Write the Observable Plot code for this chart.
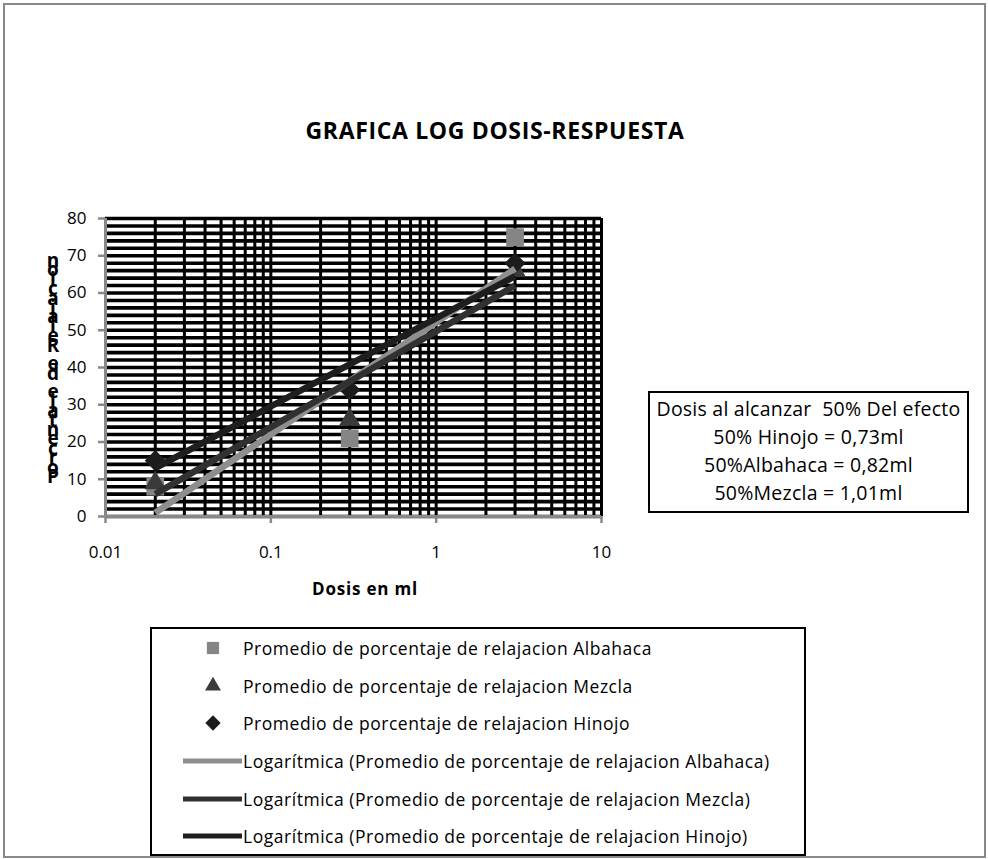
<!DOCTYPE html>
<html>
<head>
<meta charset="utf-8">
<script src="https://cdn.jsdelivr.net/npm/d3@7"></script>
<script src="https://cdn.jsdelivr.net/npm/@observablehq/plot@0.6"></script>
<style>
  body { margin: 0; background: #fff; }
  #wrap { position: relative; width: 988px; height: 859px; overflow: hidden; font-family: "Open Sans", Lato, sans-serif; color: #000; background: #fff; }
  #frame { position: absolute; left: 3px; top: 3px; width: 983px; height: 855px; border: 2px solid #888; box-sizing: border-box; }
  #plot { position: absolute; left: 0; top: 0; }
  .fit { display: inline-block; white-space: pre; }
  #title { position: absolute; left: 0; width: 990px; top: 114px; text-align: center; font-weight: bold; font-size: 23px; line-height: 32px; }
  #ylabel { position: absolute; left: 42px; top: 256px; width: 22px; text-align: center; font-weight: bold; font-size: 19px; }
  #ylabel span { display: block; height: 9.4px; line-height: 9.4px; }
  #xlabel { position: absolute; left: 265px; width: 200px; top: 577px; text-align: center; font-weight: bold; font-size: 17px; }
  #box { position: absolute; left: 648px; top: 391px; width: 321px; height: 122px; border: 2px solid #000; box-sizing: border-box; text-align: center; font-size: 19.5px; line-height: 28px; padding-top: 2px; }
  #legend { position: absolute; left: 150px; top: 627px; width: 656px; height: 229px; border: 2px solid #000; box-sizing: border-box; font-size: 17.5px; }
  .row { position: absolute; left: 0; height: 30px; width: 650px; }
  .row svg { position: absolute; left: 30px; top: 0; }
  .row .lbl { position: absolute; left: 91px; top: 0; line-height: 30px; white-space: pre; }
</style>
</head>
<body>
<div id="wrap">
  <div id="frame"></div>
  <div id="plot"></div>
  <div id="title"></div>
  <div id="ylabel"></div>
  <div id="xlabel"></div>
  <div id="box"></div>
  <div id="legend"></div>
</div>
<script>
// ---- data ----
const doses = [0.02, 0.3, 3];
const albahaca = [8, 21, 75];
const mezcla = [9, 26, 66];
const hinojo = [15, 34, 68];
// logarithmic trend lines (end points)
const trendDoses = [0.02, 3];
const trendAlbahaca = [1, 66.5];
const trendMezcla = [6, 62];
const trendHinojo = [13, 64.5];

const xDomain = [0.01, 10];
const xTicks = [0.01, 0.1, 1, 10];
const xTickLabels = ["0.01", "0.1", "1", "10"];
const yDomain = [0, 80];
const yTicks = [0, 10, 20, 30, 40, 50, 60, 70, 80];
const yGridStep = 2;

const seriesNames = ["Albahaca", "Mezcla", "Hinojo"];
const markerColors = ["#858585", "#3a3a3a", "#1c1c1c"];
const lineColors = ["#8e8e8e", "#313131", "#1e1e1e"];
const symbols = ["square", "triangle", "diamond2"];
const symbolR = [10, 8, 9.5];

const titleText = "GRAFICA LOG DOSIS-RESPUESTA";
const yLabelText = "Porcentaje de Relajacion";
const xLabelText = "Dosis en ml";
const boxLines = ["Dosis al alcanzar  50% Del efecto", "50% Hinojo = 0,73ml", "50%Albahaca = 0,82ml", "50%Mezcla = 1,01ml"];
const legendPrefix = "Promedio de porcentaje de relajacion ";
const trendPrefix = "Logarítmica (";

// ---- build tables ----
const pointSeries = [albahaca, mezcla, hinojo];
const trendSeries = [trendAlbahaca, trendMezcla, trendHinojo];
const points = pointSeries.map((vals, s) => vals.map((v, i) => ({dose: doses[i], value: v, s})));
const trends = trendSeries.map((vals, s) => vals.map((v, i) => ({dose: trendDoses[i], value: v, s})));

const minorX = d3.scaleLog().domain(xDomain).ticks();
const gridY = d3.range(yDomain[0], yDomain[1] + yGridStep, yGridStep);

const marks = [
  Plot.ruleX(minorX, {stroke: "#000", strokeWidth: 3}),
  Plot.ruleY(gridY, {stroke: "#000", strokeWidth: 3.6}),
  Plot.ruleX([xDomain[0]], {stroke: "#888", strokeWidth: 3}),
  Plot.ruleY([yDomain[0]], {stroke: "#888", strokeWidth: 3}),
  Plot.axisY({ticks: yTicks, tickSize: 7, tickPadding: 12, stroke: "#888", strokeWidth: 2.5, fill: "#000", fontSize: 17}),
  Plot.axisX({ticks: xTicks, tickFormat: d => xTickLabels[xTicks.indexOf(d)], tickSize: 7, tickPadding: 22, stroke: "#888", strokeWidth: 2.5, fill: "#000", fontSize: 17})
];
points.forEach((pts, s) => {
  marks.push(Plot.dot(pts, {x: "dose", y: "value", symbol: () => symbols[s], r: symbolR[s], fill: markerColors[s], stroke: null}));
});
trends.forEach((pts, s) => {
  marks.push(Plot.line(pts, {x: "dose", y: "value", stroke: lineColors[s], strokeWidth: 6.5, strokeLinecap: "butt"}));
});

const chart = Plot.plot({
  width: 988,
  height: 859,
  marginLeft: 105,
  marginRight: 387,
  marginTop: 218,
  marginBottom: 343,
  x: {type: "log", domain: xDomain, label: null},
  y: {domain: yDomain, label: null},
  symbol: {type: "identity"},
  style: {fontFamily: "'Open Sans', Lato, sans-serif", fontSize: "17px", color: "#000", background: "transparent"},
  marks
});
document.getElementById("plot").appendChild(chart);

// ---- texts ----
function span(parent, text) {
  const s = document.createElement("span");
  s.className = "fit";
  s.textContent = text;
  parent.appendChild(s);
  return s;
}
const fitters = [];
function fitTo(el, target) {
  fitters.push(() => {
    el.style.letterSpacing = "0px";
    const w = el.getBoundingClientRect().width;
    el.style.letterSpacing = ((target - w) / el.textContent.length) + "px";
  });
}
function fitGroup(els, ref, target) {
  fitters.push(() => {
    els.forEach(e => e.style.letterSpacing = "0px");
    const w = ref.getBoundingClientRect().width;
    const ls = ((target - w) / ref.textContent.length) + "px";
    els.forEach(e => e.style.letterSpacing = ls);
  });
}

const t = span(document.getElementById("title"), titleText);
fitTo(t, 379);
const xl = span(document.getElementById("xlabel"), xLabelText);
fitTo(xl, 106);

const yl = document.getElementById("ylabel");
yLabelText.split("").reverse().forEach(ch => {
  const sp = document.createElement("span");
  sp.textContent = ch === " " ? "\u00a0" : ch;
  yl.appendChild(sp);
});

const box = document.getElementById("box");
const boxSpans = boxLines.map(line => {
  const d = document.createElement("div");
  box.appendChild(d);
  return span(d, line);
});
fitGroup(boxSpans, boxSpans[0], 304);

// ---- legend ----
const legend = document.getElementById("legend");
const rowTops = [4, 42, 79, 117, 155, 192];
const entries = [];
seriesNames.forEach((n, s) => entries.push({kind: "marker", s, text: legendPrefix + n}));
seriesNames.forEach((n, s) => entries.push({kind: "line", s, text: trendPrefix + legendPrefix + n + ")"}));
const legendSpans = [];
entries.forEach((e, i) => {
  const row = document.createElement("div");
  row.className = "row";
  row.style.top = rowTops[i] + "px";
  const svg = d3.create("svg").attr("width", 60).attr("height", 30);
  if (e.kind === "marker") {
    const sizes = [150, 110, 150];
    svg.append("path")
      .attr("transform", "translate(31,15)")
      .attr("d", d3.symbol(e.s === 0 ? d3.symbolSquare : e.s === 1 ? d3.symbolTriangle : d3.symbolDiamond2, sizes[e.s])())
      .attr("fill", markerColors[e.s]);
  } else {
    svg.append("line").attr("x1", 1).attr("x2", 60).attr("y1", 15).attr("y2", 15)
      .attr("stroke", lineColors[e.s]).attr("stroke-width", 5);
  }
  row.appendChild(svg.node());
  const lbl = document.createElement("div");
  lbl.className = "lbl";
  row.appendChild(lbl);
  legendSpans.push(span(lbl, e.text));
  legend.appendChild(row);
});
fitGroup(legendSpans, legendSpans[0], 409);

function runFit() { fitters.forEach(f => f()); }
runFit();
if (document.fonts && document.fonts.ready) document.fonts.ready.then(runFit);
</script>
</body>
</html>
